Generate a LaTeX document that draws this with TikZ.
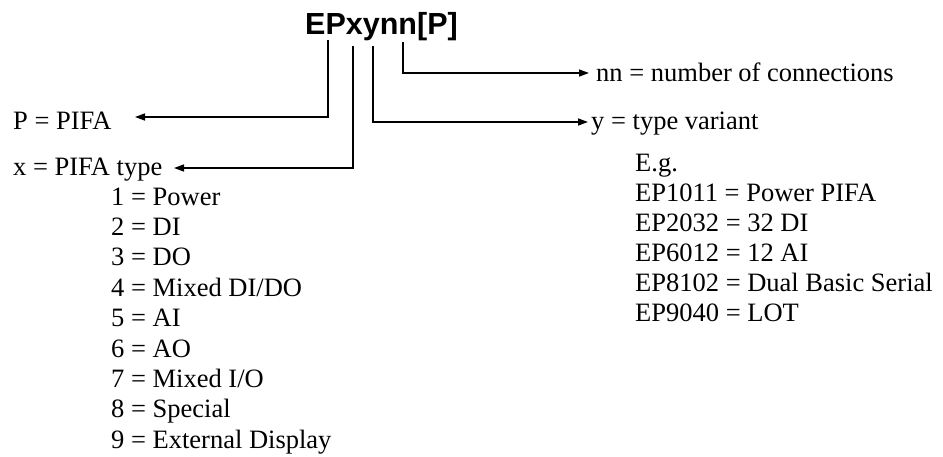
\documentclass[tikz,border=0pt]{standalone}
\usepackage{fontspec}
\setmainfont{Liberation Serif}
\newfontfamily\titlefont{Liberation Sans}
\usetikzlibrary{arrows.meta}
\begin{document}
\begin{tikzpicture}[x=1pt,y=-1pt,
  txt/.style={anchor=base west,inner sep=0pt,font=\fontsize{26.5}{30}\selectfont},
  conn/.style={line width=1.4pt,-{Triangle[length=10pt,width=7pt]}}]
\useasboundingbox (0,0) rectangle (943,456);
\node[anchor=base,inner sep=0pt,font=\titlefont\bfseries\fontsize{30.5}{36}\selectfont] (title) at (381.5,34.5) {EPxynn[P]};
% texts
\node[txt] (ptxt) at (13,129) {P = PIFA};
\node[txt] (xtxt) at (13,175) {x = PIFA type};
\node[txt] (nntxt) at (596,81) {nn = number of connections};
\node[txt] (ytxt) at (591,129) {y = type variant};
\foreach \t [count=\i from 0] in {1 = Power,2 = DI,3 = DO,4 = Mixed DI/DO,5 = AI,6 = AO,7 = Mixed I/O,8 = Special,9 = External Display}
  \node[txt] (l\i) at (111,205+30.4*\i) {\t};
\foreach \t [count=\i from 0] in {E.g.,EP1011 = Power PIFA,EP2032 = 32 DI,EP6012 = 12 AI,EP8102 = Dual Basic Serial,EP9040 = LOT}
  \node[txt] (e\i) at (635,171+30*\i) {\t};
% connector coordinates
\coordinate (pTop) at (328,40);
\coordinate (xTop) at (353,46);
\coordinate (yTop) at (373,46);
\coordinate (nTop) at (403,42);
\coordinate (pTip) at (135,117);
\coordinate (xTip) at (174,168);
\coordinate (yTip) at (588,122);
\coordinate (nTip) at (589,73);
\draw[conn] (pTop) |- (pTip);
\draw[conn] (xTop) |- (xTip);
\draw[conn] (yTop) |- (yTip);
\draw[conn] (nTop) |- (nTip);
\end{tikzpicture}
\end{document}
